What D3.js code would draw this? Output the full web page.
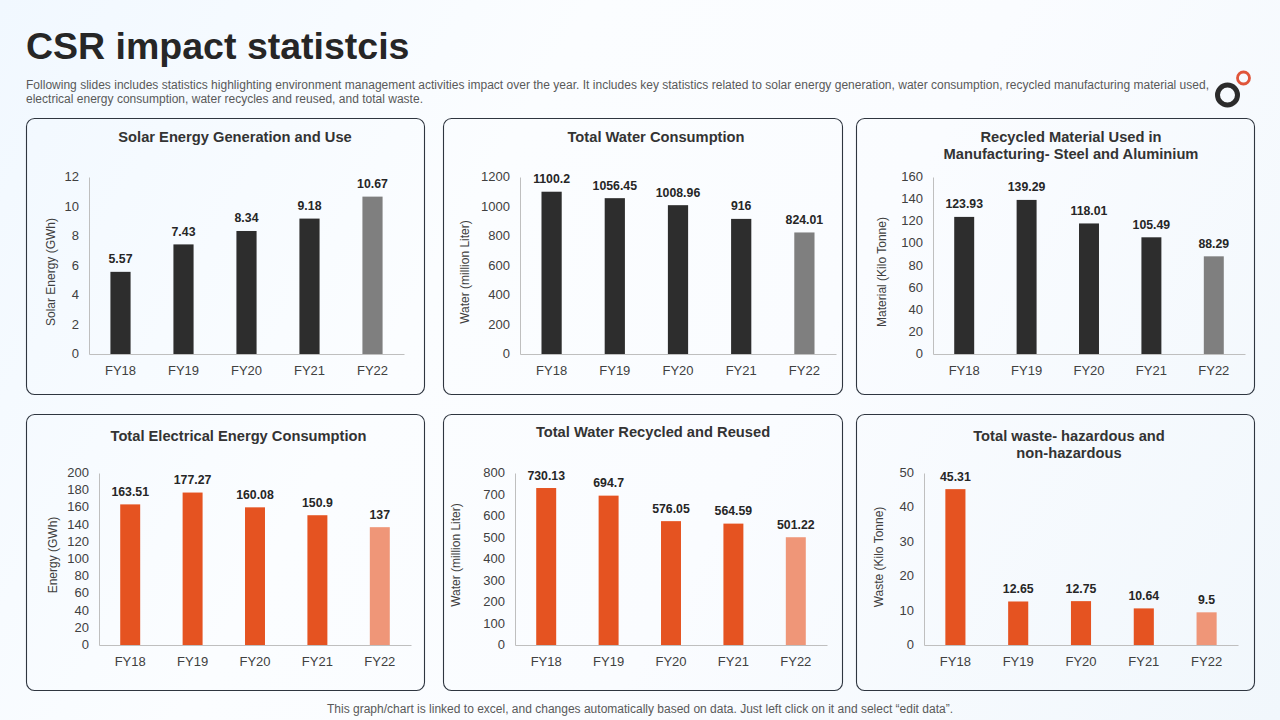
<!DOCTYPE html>
<html>
<head>
<meta charset="utf-8">
<script src="https://cdn.jsdelivr.net/npm/d3@7"></script>
<style>
  html, body { margin: 0; padding: 0; }
  body { width: 1280px; height: 720px; overflow: hidden;
    background: linear-gradient(120deg, #f1f8ff 0%, #fbfdff 35%, #fafcff 60%, #f1f7fc 100%); }
  svg { display: block; font-family: "Liberation Sans", Arial, sans-serif; }
</style>
</head>
<body>
<svg width="1280" height="720"></svg>
<script>
const categories = ['FY18', 'FY19', 'FY20', 'FY21', 'FY22']

const solarValues = [5.57, 7.43, 8.34, 9.18, 10.67]
const waterValues = [1100.2, 1056.45, 1008.96, 916, 824.01]
const materialValues = [123.93, 139.29, 118.01, 105.49, 88.29]
const energyValues = [163.51, 177.27, 160.08, 150.9, 137]
const recycledValues = [730.13, 694.7, 576.05, 564.59, 501.22]
const wasteValues = [45.31, 12.65, 12.75, 10.64, 9.5]

const solarTicks = [0, 2, 4, 6, 8, 10, 12]
const waterTicks = [0, 200, 400, 600, 800, 1000, 1200]
const materialTicks = [0, 20, 40, 60, 80, 100, 120, 140, 160]
const energyTicks = [0, 20, 40, 60, 80, 100, 120, 140, 160, 180, 200]
const recycledTicks = [0, 100, 200, 300, 400, 500, 600, 700, 800]
const wasteTicks = [0, 10, 20, 30, 40, 50]

const titleText = 'CSR impact statistcis'
const introLines = [
  'Following slides includes statistics highlighting environment management activities impact over the year.  It includes key statistics related to solar energy generation, water consumption, recycled manufacturing material used,',
  'electrical energy consumption, water recycles and reused, and total waste.'
]
const footerText = 'This graph/chart is linked to excel,  and changes automatically based on data. Just left click on it and select \u201cedit data\u201d.'

const DARK = ['#2d2d2d', '#7f7f7f']
const ORANGE = ['#e55321', '#ef9678']

const panels = [
  {box:[26.5,118.5,398,276], plot:[89,404,177,354], values:solarValues, ticks:solarTicks, colors:DARK,
   title:['Solar Energy Generation and Use'], titleX:235, titleY:142, yLabel:'Solar Energy (GWh)', yLabelX:54.5, yLabelY:272},
  {box:[443.5,118.5,399,276], plot:[520,836,177,354], values:waterValues, ticks:waterTicks, colors:DARK,
   title:['Total Water Consumption'], titleX:656, titleY:142, yLabel:'Water (million Liter)', yLabelX:468.5, yLabelY:272},
  {box:[856.5,118.5,398,276], plot:[933,1245,177,354], values:materialValues, ticks:materialTicks, colors:DARK,
   title:['Recycled Material Used in','Manufacturing- Steel and Aluminium'], titleX:1071, titleY:142, yLabel:'Material (Kilo Tonne)', yLabelX:885.5, yLabelY:272},
  {box:[26.5,414.5,398,276], plot:[99,411,473,645], values:energyValues, ticks:energyTicks, colors:ORANGE,
   title:['Total Electrical Energy Consumption'], titleX:238.5, titleY:441, yLabel:'Energy (GWh)', yLabelX:56.5, yLabelY:555},
  {box:[443.5,414.5,399,276], plot:[515,827,473,645], values:recycledValues, ticks:recycledTicks, colors:ORANGE,
   title:['Total Water Recycled and Reused'], titleX:653, titleY:437, yLabel:'Water (million Liter)', yLabelX:459.5, yLabelY:555},
  {box:[856.5,414.5,398,276], plot:[924,1238,473,645], values:wasteValues, ticks:wasteTicks, colors:ORANGE,
   title:['Total waste- hazardous and','non-hazardous'], titleX:1069, titleY:441, yLabel:'Waste (Kilo Tonne)', yLabelX:882.5, yLabelY:557}
]

const svg = d3.select('svg')

svg.append('text').attr('x', 26).attr('y', 59)
  .attr('font-size', 37.5).attr('font-weight', 'bold').attr('fill', '#262626')
  .text(titleText)

svg.selectAll('.intro').data(introLines).enter().append('text')
  .attr('class', 'intro')
  .attr('x', 26)
  .attr('y', (d, i) => 89 + i * 14)
  .attr('font-size', 12).attr('fill', '#595959')
  .attr('textLength', (d, i) => i ? 397 : 1183)
  .attr('lengthAdjust', 'spacing')
  .text(d => d)

svg.append('text').attr('x', 327).attr('y', 713)
  .attr('font-size', 12).attr('fill', '#595959')
  .attr('textLength', 626).attr('lengthAdjust', 'spacing')
  .text(footerText)

// logo
svg.append('circle').attr('cx', 1227.5).attr('cy', 95).attr('r', 10)
  .attr('fill', 'none').attr('stroke', '#2b2b2b').attr('stroke-width', 5)
svg.append('circle').attr('cx', 1243.5).attr('cy', 78).attr('r', 6)
  .attr('fill', 'none').attr('stroke', '#e0553a').attr('stroke-width', 2.8)

function drawPanel(p) {
  const [bx, by, bw, bh] = p.box
  const [x0, x1, yTop, yBase] = p.plot
  const g = svg.append('g')

  g.append('rect').attr('x', bx).attr('y', by).attr('width', bw).attr('height', bh)
    .attr('rx', 8).attr('fill', 'none').attr('stroke', '#2f3640').attr('stroke-width', 1.1)

  g.selectAll('.ptitle').data(p.title).enter().append('text')
    .attr('class', 'ptitle')
    .attr('x', p.titleX)
    .attr('y', (d, i) => p.titleY + i * 17)
    .attr('text-anchor', 'middle')
    .attr('font-size', 14.7).attr('font-weight', 'bold').attr('fill', '#333333')
    .text(d => d)

  const x = d3.scaleBand().domain(categories).range([x0, x1]).paddingInner(0.68).paddingOuter(0.34)
  const y = d3.scaleLinear().domain([0, d3.max(p.ticks)]).range([yBase, yTop])

  const yAxis = g.append('g').attr('transform', 'translate(' + x0 + ',0)')
    .call(d3.axisLeft(y).tickValues(p.ticks).tickFormat(d3.format('d')).tickSize(0).tickPadding(10))
  const xAxis = g.append('g').attr('transform', 'translate(0,' + yBase + ')')
    .call(d3.axisBottom(x).tickSize(0).tickPadding(12))

  ;[yAxis, xAxis].forEach(a => {
    a.select('.domain').attr('stroke', '#bfbfbf').attr('stroke-width', 1)
    a.selectAll('text').attr('font-size', 13).attr('font-family', 'inherit').attr('fill', '#404040')
  })
  yAxis.selectAll('text').attr('dy', '0.27em')

  g.selectAll('.bar').data(p.values).enter().append('rect')
    .attr('class', 'bar')
    .attr('x', (d, i) => x(categories[i]))
    .attr('y', d => y(d))
    .attr('width', x.bandwidth())
    .attr('height', d => yBase - y(d))
    .attr('fill', (d, i) => i == 4 ? p.colors[1] : p.colors[0])

  g.selectAll('.val').data(p.values).enter().append('text')
    .attr('class', 'val')
    .attr('x', (d, i) => x(categories[i]) + x.bandwidth() / 2)
    .attr('y', d => y(d) - 8.5)
    .attr('text-anchor', 'middle')
    .attr('font-size', 12.3).attr('font-weight', 'bold').attr('fill', '#262626')
    .text(d => d)

  g.append('text')
    .attr('transform', 'translate(' + p.yLabelX + ',' + p.yLabelY + ') rotate(-90)')
    .attr('text-anchor', 'middle')
    .attr('font-size', 12).attr('fill', '#404040')
    .text(p.yLabel)
}

panels.forEach(drawPanel)
</script>
</body>
</html>
